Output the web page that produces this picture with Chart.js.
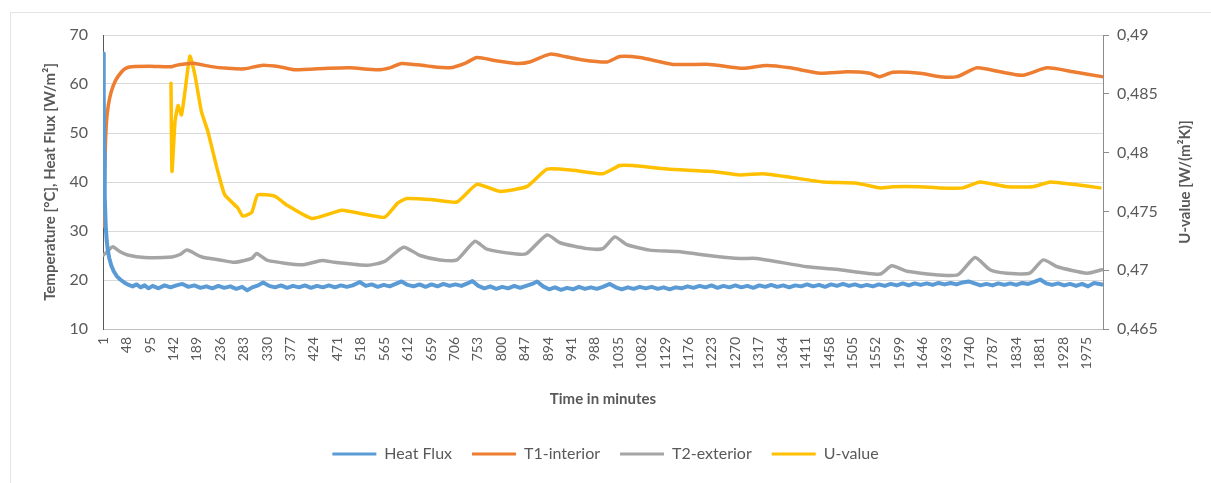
<!DOCTYPE html>
<html>
<head>
<meta charset="utf-8">
<title>Heat flux measurement</title>
<script src="https://cdn.jsdelivr.net/npm/chart.js@4"></script>
<style>
    body { margin: 0; background: #fff; }
    #wrap { position: relative; width: 1211px; height: 483px; }
</style>
</head>
<body>
<div id="wrap"><canvas id="heatChart"></canvas></div>
<script>
// x axis tick labels (minutes)
const xTicks = [1, 48, 95, 142, 189, 236, 283, 330, 377, 424, 471, 518, 565, 612, 659, 706, 753, 800,
    847, 894, 941, 988, 1035, 1082, 1129, 1176, 1223, 1270, 1317, 1364, 1411, 1458, 1505, 1552, 1599,
    1646, 1693, 1740, 1787, 1834, 1881, 1928, 1975];
const uTicks = [0.465, 0.47, 0.475, 0.48, 0.485, 0.49];
const uTickLabels = ['0,465', '0,47', '0,475', '0,48', '0,485', '0,49'];

// Heat Flux [W/m2]  -> [minute, value]
const heatFlux = [
    [1, 66.2], [2, 58], [3, 46], [4, 37], [6, 31], [8, 28], [10, 26.2], [13, 24.5], [17, 23], [22, 21.8],
    [28, 20.8], [35, 20.1], [43, 19.5], [52, 19.0], [60, 18.7], [68, 19.1], [76, 18.5], [84, 18.9], [92, 18.3],
    [100, 18.8], [112, 18.3], [124, 18.9], [136, 18.5], [148, 18.9], [160, 19.2], [172, 18.6], [184, 18.9],
    [196, 18.4], [208, 18.7], [220, 18.3], [232, 18.8], [244, 18.4], [256, 18.7], [268, 18.2], [280, 18.6],
    [290, 17.9], [300, 18.5], [312, 18.9], [322, 19.5], [334, 18.8], [346, 18.5], [358, 18.9], [370, 18.4],
    [382, 18.8], [394, 18.5], [406, 18.9], [418, 18.4], [430, 18.8], [442, 18.5], [454, 18.9], [466, 18.5],
    [478, 18.9], [490, 18.6], [502, 18.9], [516, 19.6], [528, 18.8], [540, 19.1], [552, 18.6], [564, 19.0],
    [576, 18.7], [588, 19.2], [600, 19.7], [612, 19.0], [624, 18.7], [636, 19.1], [648, 18.6], [660, 19.1],
    [672, 18.7], [684, 19.2], [696, 18.8], [708, 19.1], [720, 18.8], [732, 19.3], [742, 19.8], [754, 18.8],
    [766, 18.3], [778, 18.7], [790, 18.2], [802, 18.6], [814, 18.3], [826, 18.8], [838, 18.4], [850, 18.8],
    [862, 19.2], [872, 19.7], [884, 18.7], [896, 18.1], [908, 18.5], [920, 18.0], [932, 18.4], [944, 18.1],
    [956, 18.6], [968, 18.2], [980, 18.5], [992, 18.2], [1004, 18.6], [1018, 19.2], [1030, 18.5], [1042, 18.1],
    [1054, 18.5], [1066, 18.2], [1078, 18.6], [1090, 18.3], [1102, 18.6], [1114, 18.2], [1126, 18.5],
    [1138, 18.1], [1150, 18.5], [1162, 18.3], [1174, 18.7], [1186, 18.4], [1198, 18.8], [1210, 18.5],
    [1222, 18.9], [1234, 18.4], [1246, 18.8], [1258, 18.5], [1270, 18.9], [1282, 18.5], [1294, 18.8],
    [1306, 18.4], [1318, 18.9], [1330, 18.6], [1342, 19.0], [1354, 18.6], [1366, 18.9], [1378, 18.5],
    [1390, 18.9], [1402, 18.7], [1414, 19.1], [1426, 18.7], [1438, 19.0], [1450, 18.6], [1462, 19.1],
    [1474, 18.8], [1486, 19.2], [1498, 18.8], [1510, 19.1], [1522, 18.7], [1534, 19.0], [1546, 18.7],
    [1558, 19.1], [1570, 18.8], [1582, 19.2], [1594, 18.9], [1606, 19.3], [1618, 18.9], [1630, 19.3],
    [1642, 19.0], [1654, 19.3], [1666, 19.0], [1678, 19.4], [1690, 19.1], [1702, 19.4], [1714, 19.1],
    [1726, 19.5], [1738, 19.7], [1750, 19.3], [1762, 18.9], [1774, 19.2], [1786, 18.9], [1798, 19.3],
    [1810, 19.0], [1822, 19.3], [1834, 19.0], [1846, 19.4], [1858, 19.2], [1870, 19.6], [1882, 20.1],
    [1894, 19.3], [1906, 19.0], [1918, 19.3], [1930, 18.9], [1942, 19.2], [1954, 18.8], [1966, 19.2],
    [1978, 18.7], [1990, 19.4], [2006, 19.1]
];

// T1-interior [°C]
const t1Interior = [
    [1, 31], [3, 40], [7, 51.6], [11, 55.5], [17, 58.4], [26, 60.8], [38, 62.5], [46, 63.2], [58, 63.5],
    [94, 63.6], [138, 63.5], [147, 63.8], [165, 64.1], [185, 64.2], [215, 63.6], [251, 63.2], [285, 63.1],
    [319, 63.8], [355, 63.5], [385, 62.9], [452, 63.2], [496, 63.3], [552, 62.9], [576, 63.3], [600, 64.2],
    [650, 63.7], [697, 63.3], [727, 64.2], [751, 65.4], [787, 64.8], [831, 64.2], [857, 64.5], [898, 66.1],
    [928, 65.6], [964, 64.9], [1012, 64.5], [1038, 65.6], [1078, 65.4], [1145, 64.0], [1219, 64.0],
    [1285, 63.2], [1333, 63.8], [1380, 63.3], [1440, 62.2], [1494, 62.5], [1540, 62.2], [1560, 61.5],
    [1586, 62.4], [1641, 62.2], [1681, 61.5], [1715, 61.5], [1755, 63.3], [1801, 62.5], [1847, 61.8],
    [1896, 63.3], [1948, 62.5], [2006, 61.5]
];

// T2-exterior [°C]
const t2Exterior = [
    [1, 25.1], [6, 25.5], [20, 26.8], [34, 25.8], [50, 25.1], [84, 24.6], [139, 24.7], [155, 25.2],
    [169, 26.1], [199, 24.7], [235, 24.1], [265, 23.6], [299, 24.4], [309, 25.4], [331, 24.0], [400, 23.1],
    [440, 24.0], [466, 23.6], [532, 23.0], [566, 23.8], [604, 26.7], [637, 25.0], [677, 24.1], [711, 24.1],
    [747, 27.9], [771, 26.3], [831, 25.3], [851, 25.4], [892, 29.2], [918, 27.6], [972, 26.4], [1004, 26.4],
    [1028, 28.8], [1052, 27.2], [1098, 26.1], [1153, 25.8], [1233, 24.8], [1279, 24.4], [1313, 24.4],
    [1414, 22.7], [1480, 22.1], [1560, 21.2], [1584, 22.9], [1614, 21.8], [1715, 21.0], [1751, 24.6],
    [1781, 22.1], [1815, 21.4], [1861, 21.4], [1888, 24.1], [1916, 22.7], [1976, 21.4], [2006, 22.1]
];

// U-value [W/(m2K)], right axis
const uValue = [
    [137, 0.4859], [139, 0.4784], [145, 0.4826], [151, 0.4840], [158, 0.4832], [165, 0.4852], [175, 0.4882],
    [185, 0.4866], [198, 0.4835], [211, 0.4818], [231, 0.4784], [245, 0.4764], [271, 0.4753], [281, 0.4746],
    [299, 0.4749], [311, 0.4764], [345, 0.4763], [371, 0.4755], [420, 0.4744], [480, 0.4751], [520, 0.4748],
    [566, 0.4745], [592, 0.4757], [610, 0.4761], [663, 0.4760], [711, 0.4758], [751, 0.4773], [797, 0.4767],
    [851, 0.4771], [892, 0.4786], [944, 0.4785], [1004, 0.4782], [1038, 0.4789], [1064, 0.4789],
    [1133, 0.4786], [1225, 0.4784], [1279, 0.4781], [1325, 0.4782], [1380, 0.4779], [1446, 0.4775],
    [1514, 0.4774], [1560, 0.4770], [1586, 0.4771], [1641, 0.4771], [1681, 0.4770], [1727, 0.4770],
    [1761, 0.4775], [1815, 0.4771], [1867, 0.4771], [1902, 0.4775], [1948, 0.4773], [2002, 0.4770]
];

const textColor = '#595959';
const fontName = 'Lato';

function toPoints(pairs) {
    return pairs.map(p => ({ x: p[0], y: p[1] }));
}

// outer frame, right axis title and a fixed legend height
const extrasPlugin = {
    id: 'extras',
    beforeLayout(chart) {
        const legend = chart.legend;
        if (legend && !legend._fixedHeight) {
            const fit = legend.fit;
            legend.fit = function() {
                fit.call(this);
                this.height = 57;
            };
            legend._fixedHeight = true;
        }
    },
    beforeDraw(chart) {
        const ctx = chart.ctx;
        ctx.save();
        ctx.strokeStyle = '#e3e3e3';
        ctx.lineWidth = 1;
        ctx.beginPath();
        ctx.moveTo(10.5, 483);
        ctx.lineTo(10.5, 12.5);
        ctx.lineTo(1211, 12.5);
        ctx.stroke();
        ctx.restore();
    },
    afterDraw(chart) {
        const ctx = chart.ctx;
        ctx.save();
        ctx.translate(1185, (chart.chartArea.top + chart.chartArea.bottom) / 2);
        ctx.rotate(-Math.PI / 2);
        ctx.font = 'bold 15px ' + fontName;
        ctx.fillStyle = textColor;
        ctx.textAlign = 'center';
        ctx.textBaseline = 'middle';
        ctx.fillText('U-value [W/(m²K)]', 0, 0);
        ctx.restore();
    }
};

const ctx = document.getElementById('heatChart').getContext('2d');
new Chart(ctx, {
    type: 'line',
    data: {
        datasets: [{
            label: 'Heat Flux',
            data: toPoints(heatFlux),
            borderColor: '#5b9bd5',
            backgroundColor: '#5b9bd5',
            borderWidth: 4,
            tension: 0,
            yAxisID: 'y'
        }, {
            label: 'T1-interior',
            data: toPoints(t1Interior),
            borderColor: '#ed7d31',
            backgroundColor: '#ed7d31',
            yAxisID: 'y'
        }, {
            label: 'T2-exterior',
            data: toPoints(t2Exterior),
            borderColor: '#a5a5a5',
            backgroundColor: '#a5a5a5',
            yAxisID: 'y'
        }, {
            label: 'U-value',
            data: toPoints(uValue),
            borderColor: '#ffc000',
            backgroundColor: '#ffc000',
            tension: 0.15,
            yAxisID: 'y1'
        }]
    },
    options: {
        responsive: true,
        maintainAspectRatio: false,
        animation: false,
        layout: { padding: { top: 35, left: 0, right: 0, bottom: 0 } },
        elements: {
            point: { radius: 0 },
            line: { borderWidth: 3.5, tension: 0.2, borderCapStyle: 'round', borderJoinStyle: 'round' }
        },
        scales: {
            x: {
                type: 'linear',
                min: 0.5,
                max: 2008,
                afterBuildTicks: function(scale) {
                    scale.ticks = xTicks.map(v => ({ value: v }));
                },
                afterFit: function(scale) { scale.height = 97; },
                grid: { display: false, drawTicks: false },
                border: { display: true, color: '#bfbfbf', width: 1 },
                ticks: {
                    autoSkip: false,
                    minRotation: 90,
                    maxRotation: 90,
                    padding: 8,
                    color: textColor,
                    font: { family: fontName, size: 14 },
                    callback: value => String(value)
                },
                title: {
                    display: true,
                    text: 'Time in minutes',
                    color: textColor,
                    font: { family: fontName, size: 15, weight: 'bold' },
                    padding: { top: 0, bottom: 18 }
                }
            },
            y: {
                position: 'left',
                min: 10,
                max: 70,
                afterFit: function(scale) { scale.width = 103; },
                ticks: {
                    stepSize: 10,
                    padding: 15,
                    color: textColor,
                    font: { family: fontName, size: 16 }
                },
                grid: { color: '#d9d9d9', drawTicks: false },
                border: { display: true, color: '#595959', width: 1 },
                title: {
                    display: true,
                    text: 'Temperature [°C], Heat Flux [W/m²]',
                    color: textColor,
                    font: { family: fontName, size: 15, weight: 'bold' },
                    padding: { top: 41, bottom: 0 }
                }
            },
            y1: {
                position: 'right',
                min: 0.465,
                max: 0.49,
                afterBuildTicks: function(scale) {
                    scale.ticks = uTicks.map(v => ({ value: v }));
                },
                afterFit: function(scale) { scale.width = 108; },
                ticks: {
                    padding: 8,
                    color: textColor,
                    font: { family: fontName, size: 16 },
                    callback: (value, index) => uTickLabels[index]
                },
                grid: { drawOnChartArea: false, drawTicks: true, tickLength: 6, color: '#8c8c8c' },
                border: { display: true, color: '#8c8c8c', width: 1 }
            }
        },
        plugins: {
            legend: {
                position: 'bottom',
                labels: {
                    boxWidth: 44,
                    boxHeight: 3,
                    padding: 20,
                    color: textColor,
                    font: { family: fontName, size: 16 },
                    generateLabels: function(chart) {
                        const items = Chart.defaults.plugins.legend.labels.generateLabels(chart);
                        items.forEach(function(item) { item.lineWidth = 0; });
                        return items;
                    }
                }
            },
            tooltip: { enabled: false }
        }
    },
    plugins: [extrasPlugin]
});
</script>
</body>
</html>
